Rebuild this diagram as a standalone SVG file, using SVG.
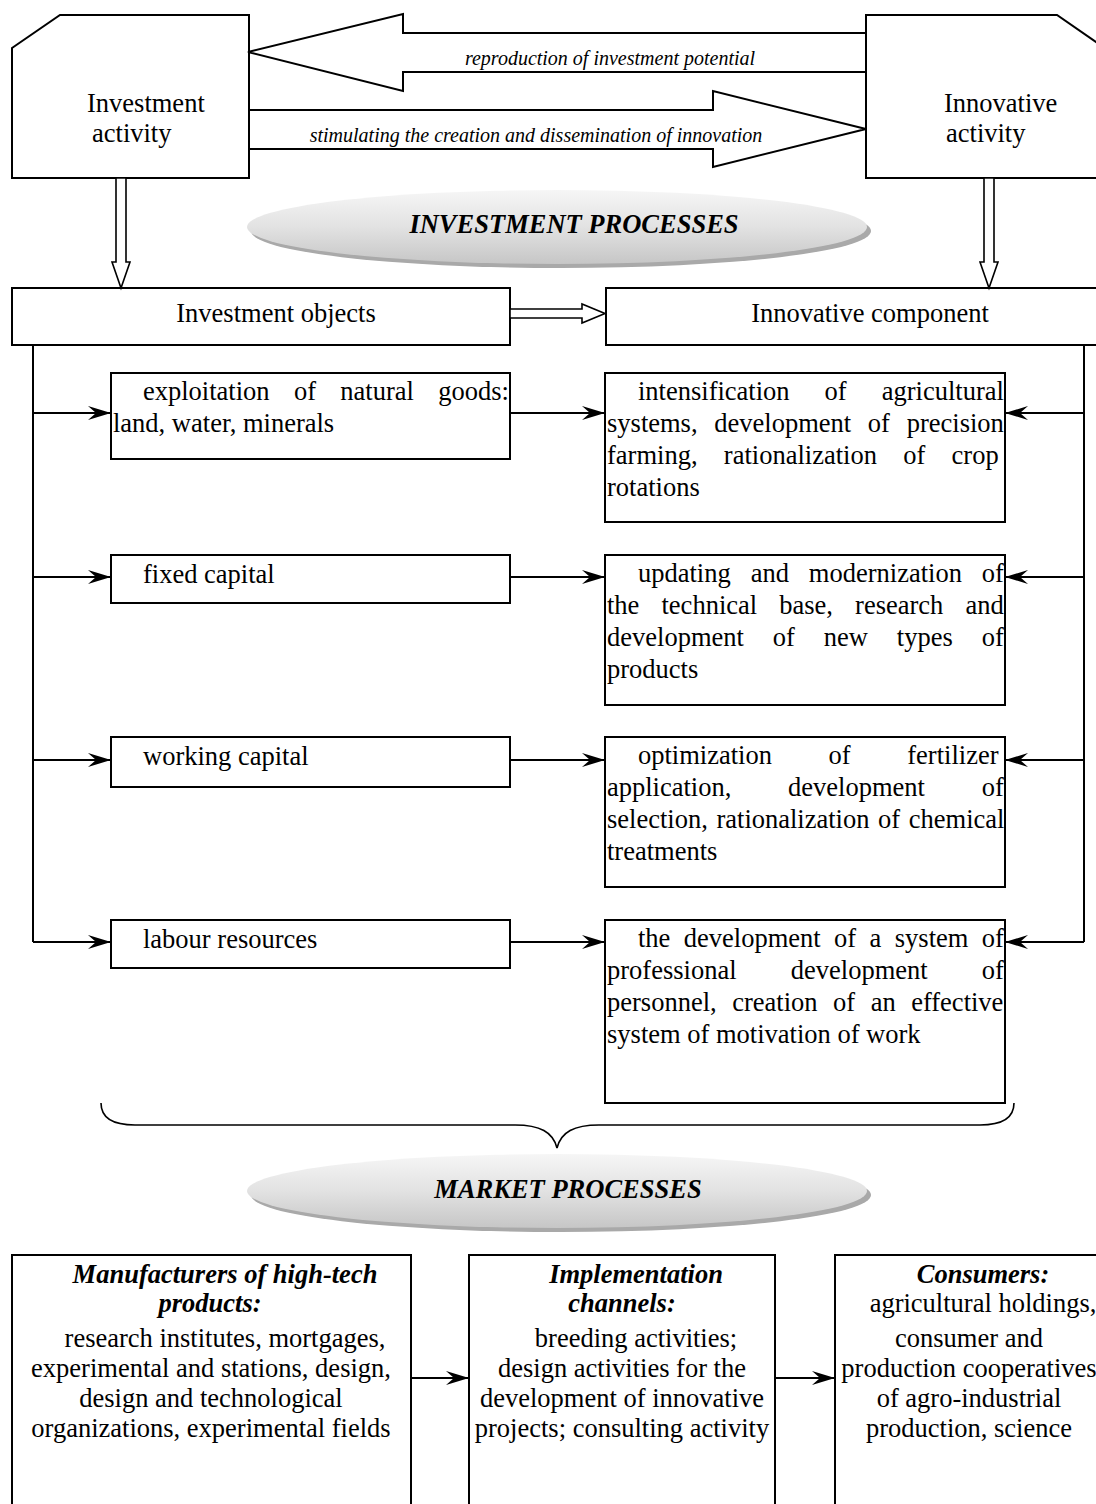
<svg xmlns="http://www.w3.org/2000/svg" width="1096" height="1504" viewBox="0 0 1096 1504">
<style>
.box{fill:#fff;stroke:#000;stroke-width:2}
.conn{fill:none;stroke:#000;stroke-width:2}
.t{font-family:"Liberation Serif","Times New Roman",serif;font-size:26.5px;fill:#000}
.lbl{font-family:"Liberation Serif","Times New Roman",serif;font-size:20px;font-style:italic;fill:#000}
.bi{font-family:"Liberation Serif","Times New Roman",serif;font-size:26.5px;font-style:italic;font-weight:bold;fill:#000}
.m{text-anchor:middle}
</style>
<defs>
<marker id="ah" markerUnits="userSpaceOnUse" markerWidth="24" markerHeight="16" refX="23" refY="8" orient="auto">
<path d="M0,1 L23,8 L0,15 L8,8 Z" fill="#000"/>
</marker>
<linearGradient id="eg" x1="0" y1="0" x2="0" y2="1">
<stop offset="0" stop-color="#f6f6f6"/>
<stop offset="0.5" stop-color="#e2e2e2"/>
<stop offset="1" stop-color="#c6c6c6"/>
</linearGradient>
</defs>

<!-- Top nodes -->
<g id="investment-activity">
<polygon class="box" points="12,48 60,15 249,15 249,178 12,178"/>
<text class="t" x="87" y="112">Investment</text>
<text class="t" x="92" y="142">activity</text>
</g>
<g id="innovative-activity">
<polygon class="box" points="866,15 1057,15 1106,49 1106,178 866,178"/>
<text class="t" x="944" y="112">Innovative</text>
<text class="t" x="946" y="142">activity</text>
</g>

<g id="investment-processes">
<ellipse cx="561" cy="231" rx="310" ry="37" fill="#a9a9a9"/>
<ellipse cx="557" cy="227" rx="310" ry="37" fill="url(#eg)"/>
<text class="bi m" x="574" y="233">INVESTMENT PROCESSES</text>
</g>

<g id="investment-objects">
<rect class="box" x="12" y="288" width="498" height="57"/>
<text class="t m" x="276" y="322">Investment objects</text>
</g>
<g id="innovative-component">
<rect class="box" x="606" y="288" width="500" height="57"/>
<text class="t m" x="870" y="322">Innovative component</text>
</g>

<!-- Row 1 -->
<g id="natural-goods">
<rect class="box" x="111" y="373" width="399" height="86"/>
<text class="t" x="143" y="400" style="word-spacing:17.7px">exploitation of natural goods:</text>
<text class="t" x="113" y="432">land, water, minerals</text>
</g>
<g id="intensification">
<rect class="box" x="605" y="373" width="400" height="149"/>
<text class="t" x="638" y="400" style="word-spacing:28.4px">intensification of agricultural</text>
<text class="t" x="607" y="432" style="word-spacing:10.1px">systems, development of precision</text>
<text class="t" x="607" y="464" style="word-spacing:19.7px">farming, rationalization of crop</text>
<text class="t" x="607" y="496">rotations</text>
</g>

<!-- Row 2 -->
<g id="fixed-capital">
<rect class="box" x="111" y="555" width="399" height="48"/>
<text class="t" x="143" y="583">fixed capital</text>
</g>
<g id="updating">
<rect class="box" x="605" y="555" width="400" height="150"/>
<text class="t" x="638" y="582" style="word-spacing:13.3px">updating and modernization of</text>
<text class="t" x="607" y="614" style="word-spacing:15.5px">the technical base, research and</text>
<text class="t" x="607" y="646" style="word-spacing:22.3px">development of new types of</text>
<text class="t" x="607" y="678">products</text>
</g>

<!-- Row 3 -->
<g id="working-capital">
<rect class="box" x="111" y="737" width="399" height="50"/>
<text class="t" x="143" y="765">working capital</text>
</g>
<g id="optimization">
<rect class="box" x="605" y="737" width="400" height="150"/>
<text class="t" x="638" y="764" style="word-spacing:50px">optimization of fertilizer</text>
<text class="t" x="607" y="796" style="word-spacing:50.1px">application, development of</text>
<text class="t" x="607" y="828" style="word-spacing:2px">selection, rationalization of chemical</text>
<text class="t" x="607" y="860">treatments</text>
</g>

<!-- Row 4 -->
<g id="labour-resources">
<rect class="box" x="111" y="920" width="399" height="48"/>
<text class="t" x="143" y="948">labour resources</text>
</g>
<g id="personnel">
<rect class="box" x="605" y="920" width="400" height="183"/>
<text class="t" x="638" y="947" style="word-spacing:6.8px">the development of a system of</text>
<text class="t" x="607" y="979" style="word-spacing:47.6px">professional development of</text>
<text class="t" x="607" y="1011" style="word-spacing:8.9px">personnel, creation of an effective</text>
<text class="t" x="607" y="1043">system of motivation of work</text>
</g>

<g id="market-processes">
<ellipse cx="561" cy="1195" rx="310" ry="37" fill="#a9a9a9"/>
<ellipse cx="557" cy="1191" rx="310" ry="37" fill="url(#eg)"/>
<text class="bi m" x="568" y="1198">MARKET PROCESSES</text>
</g>

<!-- Bottom nodes -->
<g id="manufacturers">
<rect class="box" x="12" y="1255" width="399" height="260"/>
<text class="bi m" x="225" y="1283">Manufacturers of high-tech</text>
<text class="bi m" x="210" y="1312">products:</text>
<text class="t m" x="225" y="1347">research institutes, mortgages,</text>
<text class="t m" x="211" y="1377">experimental and stations, design,</text>
<text class="t m" x="211" y="1407">design and technological</text>
<text class="t m" x="211" y="1437">organizations, experimental fields</text>
</g>
<g id="implementation">
<rect class="box" x="469" y="1255" width="306" height="260"/>
<text class="bi m" x="636" y="1283">Implementation</text>
<text class="bi m" x="622" y="1312">channels:</text>
<text class="t m" x="636" y="1347">breeding activities;</text>
<text class="t m" x="622" y="1377">design activities for the</text>
<text class="t m" x="622" y="1407">development of innovative</text>
<text class="t m" x="622" y="1437">projects; consulting activity</text>
</g>
<g id="consumers">
<rect class="box" x="835" y="1255" width="268" height="260"/>
<text class="bi m" x="983" y="1283">Consumers:</text>
<text class="t m" x="983" y="1312">agricultural holdings,</text>
<text class="t m" x="969" y="1347">consumer and</text>
<text class="t m" x="969" y="1377">production cooperatives</text>
<text class="t m" x="969" y="1407">of agro-industrial</text>
<text class="t m" x="969" y="1437">production, science</text>
</g>

<!-- Connectors -->
<g id="connectors">
<polygon class="box" points="248,52 403,14 403,33 866,33 866,72 403,72 403,91"/>
<text class="lbl m" x="610" y="65">reproduction of investment potential</text>
<polygon class="box" points="249,110 713,110 713,91 866,129 713,167 713,149 249,149"/>
<text class="lbl m" x="536" y="142">stimulating the creation and dissemination of innovation</text>

<polygon class="box" style="stroke-width:1.6" points="116,178 116,262 112,262 121,288 130,262 126,262 126,178"/>
<polygon class="box" style="stroke-width:1.6" points="984,178 984,262 980,262 989,288 998,262 994,262 994,178"/>
<polygon class="box" style="stroke-width:1.6" points="510,309 582,309 582,304 605,313.5 582,323 582,318 510,318"/>

<path class="conn" d="M33,345 V942"/>
<path class="conn" d="M1084,345 V942"/>
<line class="conn" x1="33" y1="413" x2="111" y2="413" marker-end="url(#ah)"/>
<line class="conn" x1="33" y1="577" x2="111" y2="577" marker-end="url(#ah)"/>
<line class="conn" x1="33" y1="760" x2="111" y2="760" marker-end="url(#ah)"/>
<line class="conn" x1="33" y1="942" x2="111" y2="942" marker-end="url(#ah)"/>
<line class="conn" x1="510" y1="413" x2="605" y2="413" marker-end="url(#ah)"/>
<line class="conn" x1="510" y1="577" x2="605" y2="577" marker-end="url(#ah)"/>
<line class="conn" x1="510" y1="760" x2="605" y2="760" marker-end="url(#ah)"/>
<line class="conn" x1="510" y1="942" x2="605" y2="942" marker-end="url(#ah)"/>
<line class="conn" x1="1084" y1="413" x2="1005" y2="413" marker-end="url(#ah)"/>
<line class="conn" x1="1084" y1="577" x2="1005" y2="577" marker-end="url(#ah)"/>
<line class="conn" x1="1084" y1="760" x2="1005" y2="760" marker-end="url(#ah)"/>
<line class="conn" x1="1084" y1="942" x2="1005" y2="942" marker-end="url(#ah)"/>

<path class="conn" style="stroke-width:1.6" d="M101,1103 C101,1118 112,1125 135,1125 L515,1125 C540,1125 553,1132 557,1148 C561,1132 574,1125 599,1125 L980,1125 C1003,1125 1014,1118 1014,1103"/>

<line class="conn" x1="411" y1="1378" x2="469" y2="1378" marker-end="url(#ah)"/>
<line class="conn" x1="775" y1="1378" x2="835" y2="1378" marker-end="url(#ah)"/>
</g>
</svg>
